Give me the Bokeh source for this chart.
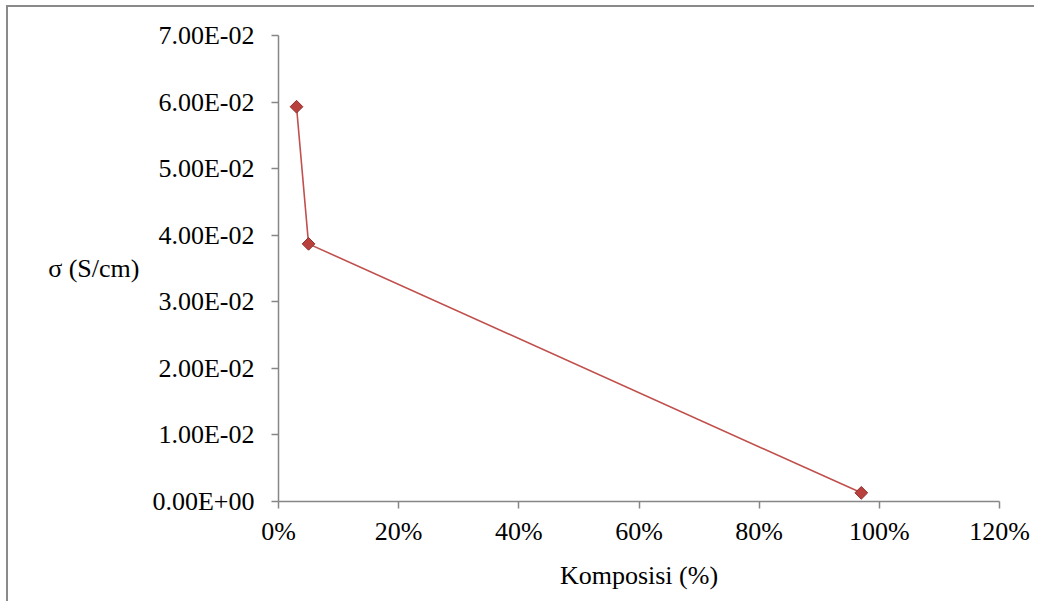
from bokeh.plotting import figure
from bokeh.models import FixedTicker, NumeralTickFormatter, CustomJSTickFormatter
from bokeh.embed import file_html
from bokeh.resources import INLINE

# data
composition = [0.03, 0.05, 0.97]
sigma = [0.0593, 0.0387, 0.0013]
x_ticks = [0.0, 0.2, 0.4, 0.6, 0.8, 1.0, 1.2]
y_ticks = [0.0, 0.01, 0.02, 0.03, 0.04, 0.05, 0.06, 0.07]
x_label = "Komposisi (%)"
y_label = "σ (S/cm)"

FONT = "Liberation Serif"
AXIS_COL = "#868686"

p = figure(width=1028, height=596, x_range=(0, 1.2), y_range=(0, 0.07),
           output_backend="svg", toolbar_location=None,
           min_border_left=270, min_border_top=28, min_border_right=37,
           min_border_bottom=102)
p.styles = {"border-left": "2px solid #8a8a8a", "border-top": "2px solid #8a8a8a",
            "margin-left": "6px", "margin-top": "5px"}
p.outline_line_color = None
p.xgrid.visible = False
p.ygrid.visible = False

p.line(composition, sigma, line_color="#C0504D", line_width=1.6)
p.scatter(composition, sigma, marker="square", angle=0.785398, size=9,
          fill_color="#B8413E", line_color="#8E302D", line_width=1)

for ax in (p.xaxis[0], p.yaxis[0]):
    ax.axis_line_color = AXIS_COL
    ax.axis_line_width = 1.5
    ax.major_tick_line_color = AXIS_COL
    ax.major_tick_line_width = 1.5
    ax.major_tick_in = 0
    ax.major_tick_out = 7
    ax.minor_tick_line_color = None
    ax.major_label_text_font = FONT
    ax.major_label_text_font_size = "26px"
    ax.major_label_text_color = "#000000"
    ax.axis_label_text_font = FONT
    ax.axis_label_text_font_size = "26px"
    ax.axis_label_text_font_style = "normal"
    ax.axis_label_text_color = "#000000"

p.xaxis[0].ticker = FixedTicker(ticks=x_ticks)
p.xaxis[0].formatter = NumeralTickFormatter(format="0%")
p.xaxis[0].major_label_standoff = 8
p.xaxis[0].axis_label = x_label
p.xaxis[0].axis_label_standoff = 12

p.yaxis[0].ticker = FixedTicker(ticks=y_ticks)
p.yaxis[0].formatter = CustomJSTickFormatter(code="""
const s = tick.toExponential(2).split('e');
let e = parseInt(s[1]);
const sign = e < 0 ? '-' : '+';
e = Math.abs(e);
return s[0] + 'E' + sign + (e < 10 ? '0' : '') + e;
""")
p.yaxis[0].major_label_standoff = 17
p.yaxis[0].axis_label = y_label
p.yaxis[0].axis_label_orientation = "horizontal"
p.yaxis[0].axis_label_standoff = 10

open("out.html", "w").write(file_html(p, INLINE))
